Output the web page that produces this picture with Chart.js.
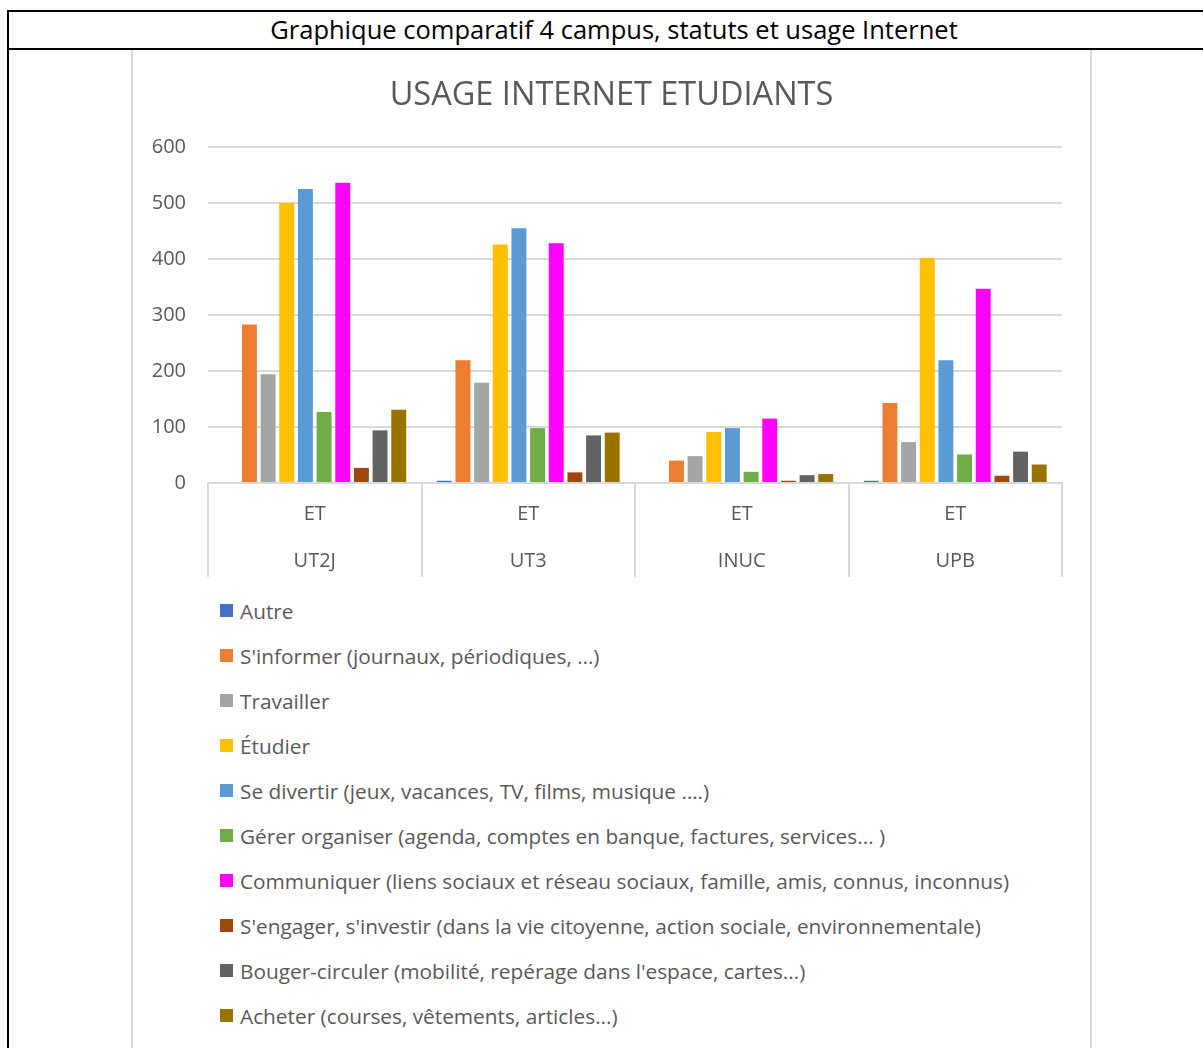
<!DOCTYPE html>
<html>
<head>
<meta charset="utf-8">
<script src="https://cdn.jsdelivr.net/npm/chart.js@4/dist/chart.umd.min.js"></script>
<style>
  html, body { margin: 0; padding: 0; background: #fff; overflow: hidden; }
  body { width: 1203px; height: 1048px; position: relative; font-family: "Open Sans", sans-serif; }
  #table { position: absolute; left: 7px; top: 10px; width: 1220px; height: 1100px;
           border-left: 2px solid #000; border-top: 2px solid #000; }
  #head { position: absolute; left: 0; top: 0; width: 1210px; height: 36px; border-bottom: 2px solid #000;
          text-align: center; font-size: 25.5px; line-height: 35px; color: #000; }
  #box { position: absolute; left: 131px; top: 50px; width: 957px; height: 1100px;
         border: 2px solid #d9d9d9; border-top: none; border-bottom: none; }
  #c { position: absolute; left: 0; top: 0; }
  #title { position: absolute; left: 0; top: 23px; width: 957px; height: 40px; line-height: 40px;
           text-align: center; font-size: 32.5px; color: #595959; white-space: nowrap; }
  #legend { position: absolute; left: 87px; top: 538px; margin: 0; padding: 0; list-style: none; }
  #legend li { height: 45px; display: flex; align-items: center; font-size: 20.8px; color: #595959; white-space: nowrap; }
  #legend li span.sw { display: inline-block; width: 13px; height: 13px; margin-right: 7px; }
</style>
</head>
<body>
<div id="table"><div id="head">Graphique comparatif 4 campus, statuts et usage Internet</div></div>
<div id="box">
  <canvas id="c" width="957" height="533"></canvas>
  <div id="title"></div>
  <ul id="legend"></ul>
</div>
<script>
const statusLabels = ["ET", "ET", "ET", "ET"];
const campuses = ["UT2J", "UT3", "INUC", "UPB"];
const chartTitle = "USAGE INTERNET ETUDIANTS";
const yTicks = [0, 100, 200, 300, 400, 500, 600];

const seriesNames = [
  "Autre",
  "S'informer (journaux, périodiques, …)",
  "Travailler",
  "Étudier",
  "Se divertir (jeux, vacances, TV, films, musique ….)",
  "Gérer organiser (agenda, comptes en banque, factures, services... )",
  "Communiquer (liens sociaux et réseau sociaux, famille, amis, connus, inconnus)",
  "S'engager, s'investir (dans la vie citoyenne, action sociale, environnementale)",
  "Bouger-circuler (mobilité, repérage dans l'espace, cartes...)",
  "Acheter (courses, vêtements, articles...)"
];
const autre        = [0, 4, 0, 4];
const sinformer    = [283, 219, 40, 143];
const travailler   = [194, 179, 48, 73];
const etudier      = [500, 426, 91, 402];
const divertir     = [525, 455, 98, 219];
const gerer        = [127, 98, 20, 51];
const communiquer  = [536, 428, 115, 347];
const engager      = [27, 19, 4, 13];
const bouger       = [94, 85, 14, 56];
const acheter      = [131, 90, 16, 33];
const seriesValues = [autre, sinformer, travailler, etudier, divertir, gerer, communiquer, engager, bouger, acheter];
const seriesColors = ["#4472C4", "#ED7D31", "#A5A5A5", "#FFC000", "#5B9BD5", "#70AD47", "#FF00FF", "#9E480E", "#636363", "#997300"];

document.getElementById("title").textContent = chartTitle;

const labels = statusLabels.map((s, i) => [s, campuses[i]]);
const datasets = seriesNames.map((n, i) => ({
  label: n,
  data: seriesValues[i],
  backgroundColor: seriesColors[i],
  borderWidth: 0,
  categoryPercentage: 0.874,
  barPercentage: 0.8
}));

const TXT = "#595959";
const GRID = "#d9d9d9";

const chart = new Chart(document.getElementById("c"), {
  type: "bar",
  data: { labels, datasets },
  options: {
    responsive: false,
    animation: false,
    layout: { padding: { left: 0, right: 28, top: 97, bottom: 0 } },
    plugins: {
      legend: { display: false },
      tooltip: { enabled: false },
      title: { display: false }
    },
    scales: {
      x: {
        grid: { display: true, drawOnChartArea: false, drawTicks: true, tickLength: 94, color: GRID, lineWidth: 2, offset: true },
        border: { display: true, color: GRID, width: 2 },
        ticks: { color: TXT, padding: -86, font: { family: "Open Sans", size: 20, lineHeight: 2.35 }, maxRotation: 0, autoSkip: false },
        afterFit: s => { s.height = 100; }
      },
      y: {
        min: 0, max: 600,
        afterBuildTicks: s => { s.ticks = yTicks.map(v => ({ value: v })); },
        grid: { color: GRID, lineWidth: 2, drawTicks: false },
        border: { display: false },
        ticks: { color: TXT, padding: 22, font: { family: "Open Sans", size: 20 } },
        afterFit: s => { s.width = 75; }
      }
    }
  }
});

const ul = document.getElementById("legend");
chart.data.datasets.forEach(ds => {
  const li = document.createElement("li");
  const sw = document.createElement("span");
  sw.className = "sw";
  sw.style.background = ds.backgroundColor;
  li.appendChild(sw);
  li.appendChild(document.createTextNode(ds.label));
  ul.appendChild(li);
});
</script>
</body>
</html>
